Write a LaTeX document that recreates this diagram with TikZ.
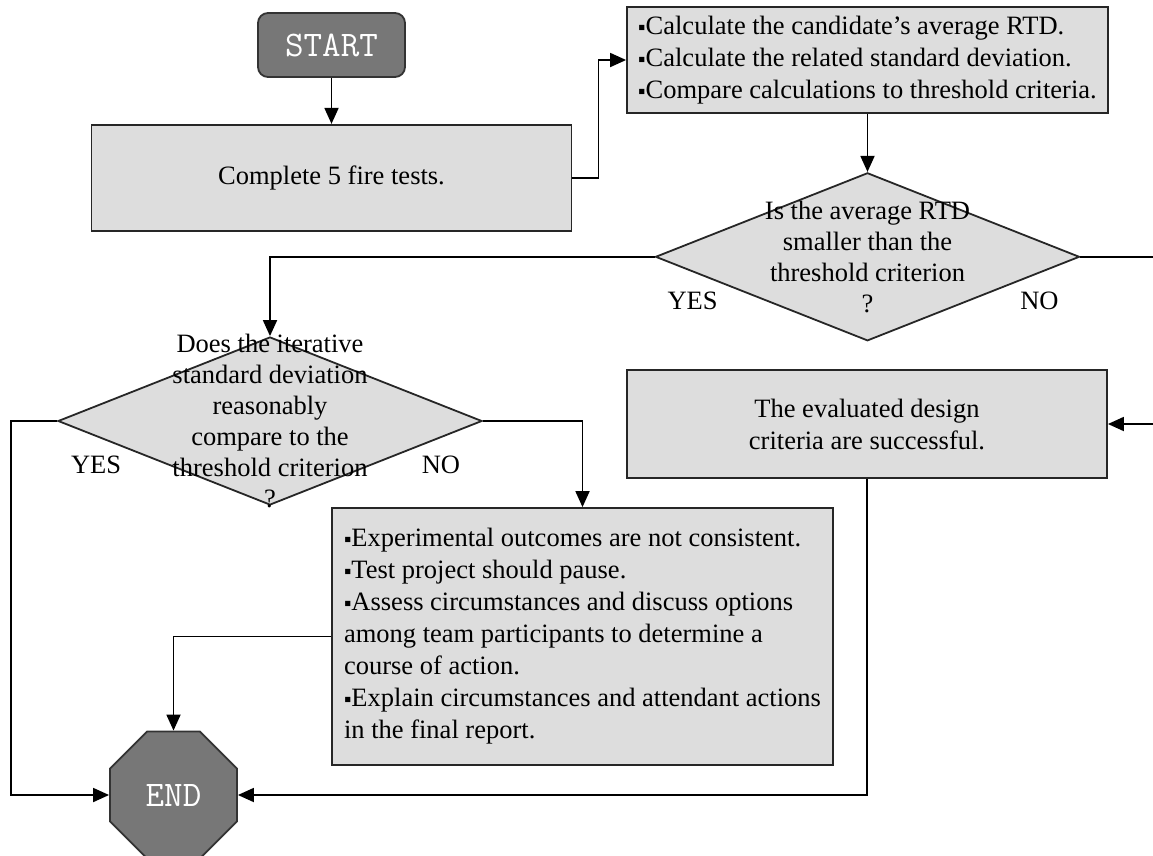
\documentclass[tikz,border=0pt]{standalone}
\usepackage{fontspec}
\setmainfont{Liberation Serif}
\usetikzlibrary{shapes.geometric, arrows.meta, positioning}
\definecolor{boxgray}{RGB}{221,221,221}
\definecolor{termgray}{RGB}{119,119,119}
\newcommand{\bul}{{\fontsize{21}{21}\selectfont ▪}}

\begin{document}
\begin{tikzpicture}[
    x=1pt, y=-1pt,
    node distance=46pt and 40pt,
    txt/.style={font=\fontsize{26.5}{32}\selectfont},
    box/.style={
      rectangle, draw=black!85, line width=1.8pt, fill=boxgray,
      txt, inner sep=0pt, align=left
    },
    term/.style={
      draw=black!80, line width=1.8pt, fill=termgray, text=white,
      font=\ttfamily\fontsize{36}{36}\selectfont, inner sep=0pt
    },
    startbox/.style={term, rectangle, rounded corners=10pt,
                     minimum width=147pt, minimum height=64pt},
    endbox/.style={term, regular polygon, regular polygon sides=8,
                   minimum size=137.5pt},
    decision/.style={diamond, draw=black!85, line width=1.8pt, fill=boxgray,
                     minimum width=424pt, minimum height=168pt, inner sep=0pt},
    qtext/.style={font=\fontsize{26.5}{31}\selectfont, align=center, inner sep=0pt},
    lbl/.style={txt, inner sep=0pt},
    arr/.style={-{Triangle[length=16pt,width=14pt]}, line width=1.8pt}
  ]

    \useasboundingbox[fill=white] (0,0) rectangle (1153,855);

    % Top row
    \node[startbox] (start) at (331.5,45) {START};
    \node[box, align=center, minimum width=480pt, minimum height=106pt,
          below=46pt of start] (tests) {Complete 5 fire tests.};
    \node[box, minimum width=481pt, minimum height=106pt] (calc) at (867.5,60)
      {\bul Calculate the candidate’s average RTD.\\
       \bul Calculate the related standard deviation.\\
       \bul Compare calculations to threshold criteria.};

    % Decisions
    \node[decision, below=58pt of calc] (q1) {};
    \node[qtext] (q1txt) at (q1.center)
      {Is the average RTD\\smaller than the\\threshold criterion\\?};
    \node[decision] (q2) at (270,421) {};
    \node[qtext] (q2txt) at (q2.center)
      {Does the iterative\\standard deviation\\reasonably\\compare to the\\threshold criterion\\?};

    % Outcomes
    \node[box, align=center, minimum width=480pt, minimum height=108pt]
      (success) at (867,424) {The evaluated design\\criteria are successful.};
    \node[box, minimum width=501pt, minimum height=257pt] (fail) at (582.5,636.5)
      {\bul Experimental outcomes are not consistent.\\
       \bul Test project should pause.\\
       \bul Assess circumstances and discuss options\\
       among team participants to determine a\\
       course of action.\\
       \bul Explain circumstances and attendant actions\\
       in the final report.};
    \node[endbox] (finish) at (173.5,795) {END};

    % Branch labels
    \node[lbl] (q1yes) at ([shift={(38,44)}]q1.west) {YES};
    \node[lbl] (q1no)  at ([shift={(-41,44)}]q1.east) {NO};
    \node[lbl] (q2yes) at ([shift={(39,44)}]q2.west) {YES};
    \node[lbl] (q2no)  at ([shift={(-42,44)}]q2.east) {NO};

    % Connectors
    \draw[arr] (start) -- (tests);
    \draw[arr] (tests.east) -- ++(26,0) |- (calc.west);
    \draw[arr] (calc) -- (q1);
    \draw[arr] (q1.west) -| (q2.north);
    \draw[arr] (q1.east) -- ++(110,0) |- (success.east);
    \draw[arr] (q2.west) -- ++(-46,0) |- (finish.west);
    \draw[arr] (q2.east) -| (fail.north);
    \draw[arr] (fail.west) -| (finish.north);
    \draw[arr] (success.south) |- (finish.east);

  \end{tikzpicture}
\end{document}
